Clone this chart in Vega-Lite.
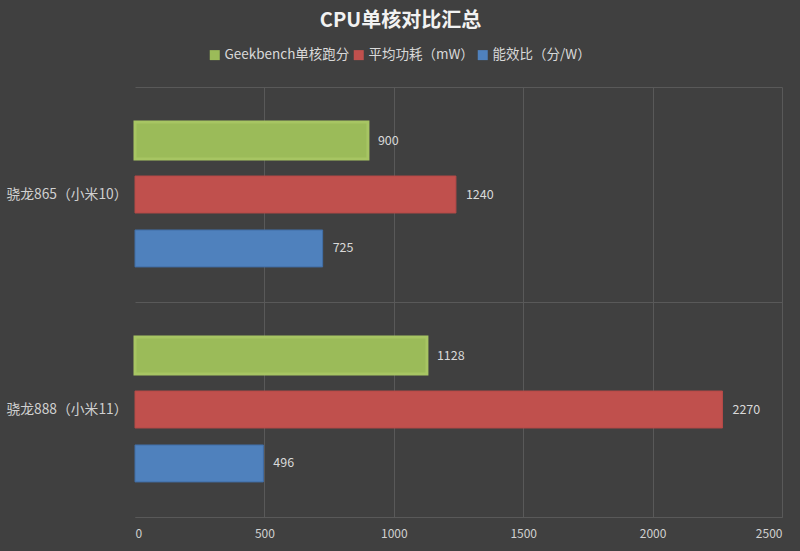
{
  "$schema": "https://vega.github.io/schema/vega-lite/v6.json",
  "autosize": "none",
  "width": 647,
  "height": 430,
  "padding": {"left": 135, "top": 87, "right": 18, "bottom": 34},
  "background": "#404040",
  "title": {
    "text": "CPU单核对比汇总",
    "anchor": "middle",
    "dx": -58,
    "offset": 17,
    "fontSize": 20,
    "fontWeight": "bold",
    "color": "#f2f2f2",
    "font": "Noto Sans CJK SC"
  },
  "config": {
    "view": {"stroke": null},
    "font": "Noto Sans CJK SC"
  },
  "data": {
    "values": [
      {"chip": "骁龙865（小米10）", "series": "Geekbench单核跑分", "value": 900},
      {"chip": "骁龙865（小米10）", "series": "平均功耗（mW）", "value": 1240},
      {"chip": "骁龙865（小米10）", "series": "能效比（分/W）", "value": 725},
      {"chip": "骁龙888（小米11）", "series": "Geekbench单核跑分", "value": 1128},
      {"chip": "骁龙888（小米11）", "series": "平均功耗（mW）", "value": 2270},
      {"chip": "骁龙888（小米11）", "series": "能效比（分/W）", "value": 496}
    ]
  },
  "encoding": {
    "y": {
      "field": "chip",
      "type": "nominal",
      "sort": ["骁龙865（小米10）", "骁龙888（小米11）"],
      "scale": {"paddingInner": 0, "paddingOuter": 0},
      "title": null,
      "axis": {
        "ticks": false,
        "domain": false,
        "grid": true,
        "tickBand": "extent",
        "gridColor": "#595959",
        "labelColor": "#d0d0d0",
        "labelFontSize": 13.8,
        "labelPadding": 8
      }
    },
    "yOffset": {
      "field": "series",
      "type": "nominal",
      "sort": ["Geekbench单核跑分", "平均功耗（mW）", "能效比（分/W）"],
      "scale": {"paddingInner": 0.315, "paddingOuter": 0.65}
    },
    "x": {
      "field": "value",
      "type": "quantitative",
      "scale": {"domain": [0, 2500], "nice": false},
      "title": null,
      "axis": {
        "values": [0, 500, 1000, 1500, 2000, 2500],
        "format": "d",
        "ticks": false,
        "domain": true,
        "domainColor": "#595959",
        "grid": true,
        "gridColor": {"condition": {"test": "datum.value === 0", "value": "transparent"}, "value": "#595959"},
        "labelColor": "#d0d0d0",
        "labelFontSize": 12,
        "labelPadding": 11
      }
    }
  },
  "layer": [
    {
      "mark": {"type": "bar"},
      "encoding": {
        "color": {
          "field": "series",
          "type": "nominal",
          "sort": ["Geekbench单核跑分", "平均功耗（mW）", "能效比（分/W）"],
          "scale": {
            "domain": ["Geekbench单核跑分", "平均功耗（mW）", "能效比（分/W）"],
            "range": ["#9bbb59", "#c0504d", "#4f81bd"]
          },
          "legend": {
            "orient": "none",
            "legendX": 73,
            "legendY": -39,
            "direction": "horizontal",
            "title": null,
            "symbolType": "square",
            "symbolSize": 100,
            "symbolStrokeWidth": 0,
            "labelColor": "#d9d9d9",
            "labelFontSize": 13.5,
            "labelOffset": 3,
            "columnPadding": 2
          }
        },
        "stroke": {
          "field": "series",
          "type": "nominal",
          "scale": {
            "domain": ["Geekbench单核跑分", "平均功耗（mW）", "能效比（分/W）"],
            "range": ["#a7c563", "#b54a47", "#416ea6"]
          },
          "legend": null
        },
        "strokeWidth": {
          "condition": {"test": "datum.series === 'Geekbench单核跑分'", "value": 3},
          "value": 1
        }
      }
    },
    {
      "mark": {"type": "text", "align": "left", "baseline": "middle", "dx": 10, "fontSize": 12.5, "color": "#d9d9d9"},
      "encoding": {
        "text": {"field": "value", "type": "quantitative"}
      }
    }
  ]
}
